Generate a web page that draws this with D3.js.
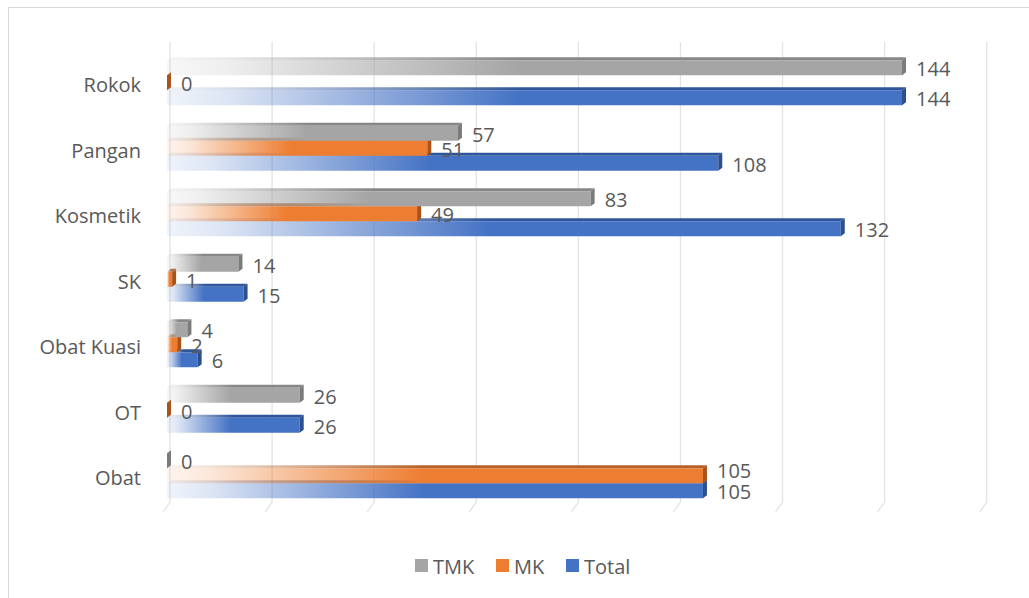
<!DOCTYPE html>
<html>
<head>
<meta charset="utf-8">
<script src="https://cdn.jsdelivr.net/npm/d3@7"></script>
<style>
  html, body { margin: 0; padding: 0; background: #fff; }
  svg { display: block; }
  text { font-family: "Open Sans", sans-serif; fill: #595959; }
</style>
</head>
<body>
<svg id="chart" width="1029" height="598"></svg>
<script>
// ---- data ----
const categories = ["Rokok", "Pangan", "Kosmetik", "SK", "Obat Kuasi", "OT", "Obat"];
const seriesNames = ["TMK", "MK", "Total"];
const tmkValues   = [144, 57, 83, 14, 4, 26, 0];
const mkValues    = [0, 51, 49, 1, 2, 0, 105];
const totalValues = [144, 108, 132, 15, 6, 26, 105];
const xTicks = [0, 20, 40, 60, 80, 100, 120, 140, 160];

const seriesValues = [tmkValues, mkValues, totalValues];
const colors = {
  TMK:   { front: "#a5a5a5", top: "#878787", side: "#7b7b7b" },
  MK:    { front: "#ed7d31", top: "#b4622a", side: "#a9531b" },
  Total: { front: "#4472c4", top: "#2f559a", side: "#2c4f8f" }
};

const svg = d3.select("#chart");
const defs = svg.append("defs");

// chart border
svg.append("rect").attr("x", 8.5).attr("y", 7.5).attr("width", 1040).attr("height", 600)
  .attr("fill", "none").attr("stroke", "#d9d9d9");

const x = d3.scaleLinear().domain([0, 160]).range([167, 983.7]);
const y = d3.scaleBand().domain(categories).range([50, 508.5]).paddingInner(0).paddingOuter(0);
const barH = 15;
const ys = d3.scaleBand().domain(seriesNames).range([-22.5, 22.5]);
const dx = 4, dy = 3;

// gridlines (back wall + floor slant)
const grid = svg.append("g");
xTicks.forEach(t => {
  const gx = x(t) + 3;
  grid.append("path")
    .attr("d", `M${gx},42 L${gx},502 L${gx - 7},512`)
    .attr("fill", "none").attr("stroke", "#e3e3e3").attr("stroke-width", 1.3);
});

// gradients
seriesNames.forEach(s => {
  ["front", "top"].forEach(face => {
    const g = defs.append("linearGradient").attr("id", `g-${s}-${face}`)
      .attr("x1", 0).attr("x2", 1).attr("y1", 0).attr("y2", 0);
    const c = colors[s][face];
    g.append("stop").attr("offset", 0).attr("stop-color", c).attr("stop-opacity", 0.08);
    g.append("stop").attr("offset", 0.08).attr("stop-color", c).attr("stop-opacity", 0.18);
    g.append("stop").attr("offset", 0.48).attr("stop-color", c).attr("stop-opacity", 1);
    g.append("stop").attr("offset", 1).attr("stop-color", c).attr("stop-opacity", 1);
  });
});

const bars = svg.append("g");
// draw bottom-most series first so upper bars overlap
const order = [2, 1, 0];
categories.forEach((cat, ci) => {
  const cy = y(cat) + y.bandwidth() / 2;
  order.forEach(si => {
    const s = seriesNames[si];
    const v = seriesValues[si][ci];
    const x0 = x(0), x1 = x(v);
    const top = cy + ys(s);
    const g = bars.append("g");
    if (v > 0) {
      g.append("path")
        .attr("d", `M${x0},${top} L${x0 + dx},${top - dy} L${x1 + dx},${top - dy} L${x1},${top} Z`)
        .attr("fill", `url(#g-${s}-top)`);
      g.append("rect").attr("x", x0).attr("y", top).attr("width", x1 - x0).attr("height", barH)
        .attr("fill", `url(#g-${s}-front)`);
    }
    g.append("path")
      .attr("d", `M${x1},${top} L${x1 + dx},${top - dy} L${x1 + dx},${top + barH - dy} L${x1},${top + barH} Z`)
      .attr("fill", colors[s].side);
  });
});

// value labels (pushed apart upward when they sit at the same x)
const labels = svg.append("g");
categories.forEach((cat, ci) => {
  const cy = y(cat) + y.bandwidth() / 2;
  const pos = seriesNames.map((s, si) => {
    const v = seriesValues[si][ci];
    return { v, lx: x(v) + dx + 10, ly: cy + ys(s) + barH / 2 + 1 };
  });
  for (let i = pos.length - 2; i >= 0; i--) {
    const a = pos[i], b = pos[i + 1];
    if (Math.abs(a.lx - b.lx) < 5 && a.ly > b.ly - 21.5) a.ly = b.ly - 21.5;
  }
  pos.forEach(p => {
    labels.append("text")
      .attr("x", p.lx)
      .attr("y", p.ly)
      .attr("dominant-baseline", "central")
      .attr("font-size", 20)
      .text(p.v);
  });
});

// category labels
const cats = svg.append("g");
categories.forEach(cat => {
  cats.append("text")
    .attr("x", 141)
    .attr("y", y(cat) + y.bandwidth() / 2 + 2)
    .attr("text-anchor", "end")
    .attr("dominant-baseline", "central")
    .attr("font-size", 20)
    .text(cat);
});

// legend
const legendX = [415, 496, 566];
const legend = svg.append("g");
seriesNames.forEach((s, i) => {
  legend.append("rect").attr("x", legendX[i]).attr("y", 559).attr("width", 13).attr("height", 13)
    .attr("fill", colors[s].front);
  legend.append("text").attr("x", legendX[i] + 18).attr("y", 566)
    .attr("dominant-baseline", "central").attr("font-size", 20).text(s);
});
</script>
</body>
</html>
